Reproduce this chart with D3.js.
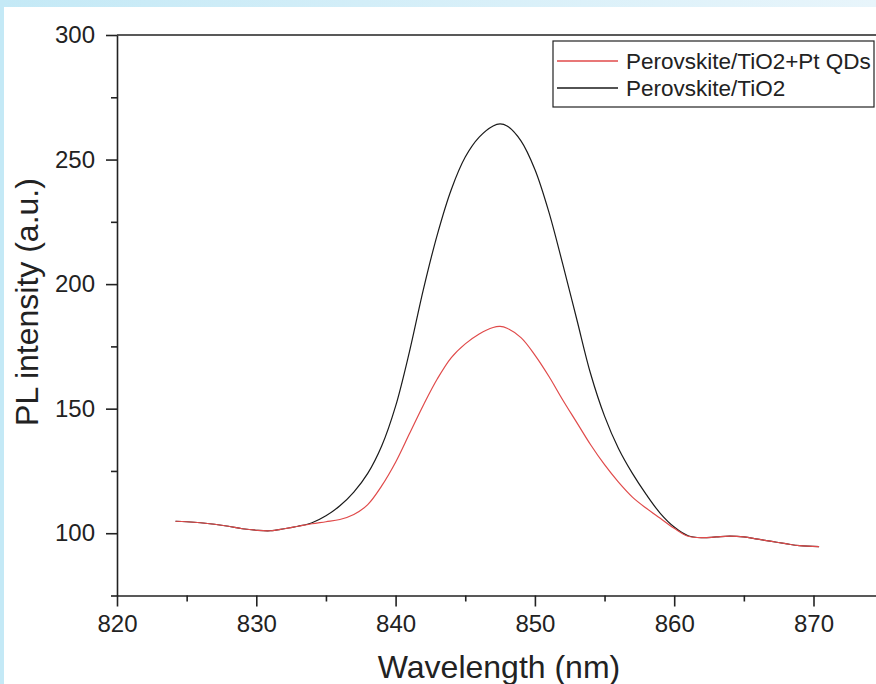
<!DOCTYPE html>
<html>
<head>
<meta charset="utf-8">
<script src="https://cdn.jsdelivr.net/npm/d3@7"></script>
<style>
  html, body { margin: 0; padding: 0; background: #fff; }
  svg { display: block; font-family: "Liberation Sans", Arial, sans-serif; }
</style>
</head>
<body>
<script>
// wavelength samples (nm)
const wavelengths = [824.2, 825, 826, 827, 828, 829, 830, 831, 832, 833, 834, 835, 836, 837, 838, 839,
  840, 841, 842, 843, 844, 845, 846, 847, 847.5, 848, 849, 850, 851, 852, 853, 854, 855, 856, 857,
  858, 859, 860, 861, 862, 863, 864, 865, 866, 867, 868, 869, 870.4]

// Perovskite/TiO2 (black)
const bare = [104.8, 104.6, 104.2, 103.6, 102.8, 101.8, 101.2, 101.0, 101.8, 102.8, 104.2, 107, 111, 116.5, 124, 135,
  151, 173, 198, 220, 238, 251, 259, 263.5, 264.3, 263.5, 257.5, 246, 229, 208, 186, 164, 147, 134, 124,
  115.5, 108, 102.5, 99, 98.2, 98.5, 98.8, 98.5, 97.6, 96.7, 95.8, 95.0, 94.6]

// Perovskite/TiO2+Pt QDs (red)
const withPt = [104.8, 104.6, 104.2, 103.6, 102.8, 101.8, 101.2, 101.0, 101.8, 102.8, 103.8, 104.6, 105.5, 107.5, 111.5, 119,
  128.5, 140, 151.5, 162, 170.5, 176, 180, 182.6, 183, 182.3, 178.5, 171.5, 163, 153.5, 144.5, 135.5, 127.5, 120.5, 114.5,
  110, 106, 102, 98.8, 98.2, 98.5, 98.8, 98.5, 97.6, 96.7, 95.8, 95.0, 94.6]

const xMajor = [820, 830, 840, 850, 860, 870]
const xMinor = [825, 835, 845, 855, 865]
const yMajor = [100, 150, 200, 250, 300]
const yMinor = [75, 125, 175, 225, 275]

const seriesNames = ['Perovskite/TiO2+Pt QDs', 'Perovskite/TiO2']
const seriesColors = ['#e04a4a', '#1a1a1a']

var width = 876,
    height = 684
var plotLeft = 117, plotTop = 35, plotBottom = 595.5

var svg = d3.select('body').append('svg')
    .attr('width', width)
    .attr('height', height)

// light blue page border like the screenshot
var grad = svg.append('defs').append('linearGradient')
    .attr('id', 'topband').attr('x1', 0).attr('x2', 1).attr('y1', 0).attr('y2', 0)
grad.append('stop').attr('offset', 0).attr('stop-color', '#c4e9f6')
grad.append('stop').attr('offset', 1).attr('stop-color', '#e8f5fb')
svg.append('rect').attr('x', 0).attr('y', 0).attr('width', width).attr('height', 7).attr('fill', 'url(#topband)')
svg.append('rect').attr('x', 0).attr('y', 0).attr('width', 4).attr('height', height).attr('fill', '#c4e9f6')

var x = d3.scaleLinear().domain([820, 880]).range([plotLeft, plotLeft + 60 * 13.93])
var y = d3.scaleLinear().domain([75, 300]).range([plotBottom, plotTop])

// axes
svg.append('g').attr('transform', `translate(0,${plotBottom})`)
    .call(d3.axisBottom(x).tickValues(xMajor).tickSize(11).tickSizeOuter(0).tickPadding(8))
svg.append('g').attr('transform', `translate(0,${plotBottom})`)
    .call(d3.axisBottom(x).tickValues(xMinor).tickSize(6).tickSizeOuter(0).tickFormat(''))
    .select('.domain').remove()

svg.append('g').attr('transform', `translate(${plotLeft},0)`)
    .call(d3.axisLeft(y).tickValues(yMajor).tickSize(11).tickSizeOuter(0).tickPadding(11))
svg.append('g').attr('transform', `translate(${plotLeft},0)`)
    .call(d3.axisLeft(y).tickValues(yMinor).tickSize(6).tickSizeOuter(0).tickFormat(''))
    .select('.domain').remove()

svg.selectAll('.tick text').attr('font-size', 24).attr('fill', '#222')
    .attr('font-family', '"Liberation Sans", Arial, sans-serif')
svg.selectAll('.domain, .tick line').attr('stroke', '#222').attr('stroke-width', 1.6)

// top frame line
svg.append('line').attr('x1', plotLeft).attr('x2', width).attr('y1', plotTop).attr('y2', plotTop)
    .attr('stroke', '#222').attr('stroke-width', 1.6)

// curves
var line = d3.line().curve(d3.curveCatmullRom)
    .x((d, i) => x(wavelengths[i]))
    .y(d => y(d))

svg.append('path').datum(bare)
    .attr('d', line).attr('fill', 'none')
    .attr('stroke', seriesColors[1]).attr('stroke-width', 1.2)
svg.append('path').datum(withPt)
    .attr('d', line).attr('fill', 'none')
    .attr('stroke', seriesColors[0]).attr('stroke-width', 1.2)

// axis titles
svg.append('text').attr('x', 499).attr('y', 678)
    .attr('text-anchor', 'middle').attr('font-size', 32).attr('fill', '#222')
    .text('Wavelength (nm)')
svg.append('text').attr('transform', 'translate(38,302) rotate(-90)')
    .attr('text-anchor', 'middle').attr('font-size', 32).attr('fill', '#222')
    .text('PL intensity (a.u.)')

// legend
var lg = svg.append('g')
lg.append('rect').attr('x', 553).attr('y', 41).attr('width', 321).attr('height', 66)
    .attr('fill', '#fff').attr('stroke', '#222').attr('stroke-width', 1.2)
seriesNames.forEach((name, i) => {
    var ly = 61 + i * 27
    lg.append('line').attr('x1', 557).attr('x2', 618).attr('y1', ly).attr('y2', ly)
        .attr('stroke', seriesColors[i]).attr('stroke-width', 1.3)
    lg.append('text').attr('x', 626).attr('y', ly + 8).attr('font-size', 22.5).attr('fill', '#222')
        .text(name)
})
</script>
</body>
</html>
